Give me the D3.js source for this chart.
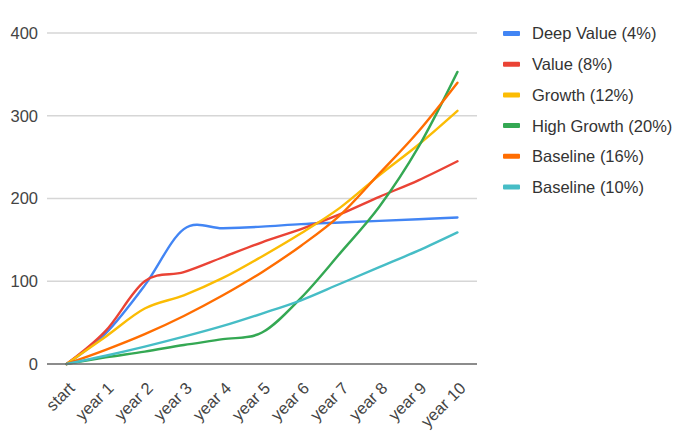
<!DOCTYPE html>
<html><head><meta charset="utf-8">
<script src="https://cdn.jsdelivr.net/npm/d3@7"></script>
<style>body{margin:0;background:#fff;} svg{display:block;font-family:Arial,"Liberation Sans",sans-serif;}</style>
</head><body>
<svg id="c" width="680" height="437"></svg>
<script>
const categories = ["start","year 1","year 2","year 3","year 4","year 5","year 6","year 7","year 8","year 9","year 10"];
const seriesNames = ["Deep Value (4%)","Value (8%)","Growth (12%)","High Growth (20%)","Baseline (16%)","Baseline (10%)"];
const seriesColors = ["#4285F4","#EA4335","#FBBC04","#34A853","#FF6D01","#46BDC6"];
const deepValue  = [0, 37, 95, 163, 164, 166, 169, 171, 173, 175, 177];
const value      = [0, 40, 100, 111, 129, 147, 163, 181, 202, 222, 245];
const growth     = [0, 33, 67, 83, 104, 130, 158, 189, 228, 265, 306];
const highGrowth = [0, 8, 15, 23, 30, 38, 80, 134, 190, 262, 353];
const base16     = [0, 17, 36, 58, 83, 111, 143, 180, 230, 281, 340];
const base10     = [0, 10, 21, 33, 46, 61, 77, 97, 117, 137, 159];
const yTicks = [0, 100, 200, 300, 400];
const seriesData = [deepValue, value, growth, highGrowth, base16, base10];

const svg = d3.select("#c");
const x = d3.scalePoint().domain(categories).range([47, 477]).padding(0.5);
const y = d3.scaleLinear().domain([0, 400]).range([364, 33]);

// gridlines
svg.append("g").selectAll("line").data(yTicks.filter(d => d !== 0)).join("line")
  .attr("x1", 47).attr("x2", 477).attr("y1", d => y(d)).attr("y2", d => y(d))
  .attr("stroke", "#d6d6d6").attr("stroke-width", 1.3);

// y labels
svg.append("g").selectAll("text").data(yTicks).join("text")
  .attr("x", 38).attr("y", d => y(d)).attr("dy", "0.36em")
  .attr("text-anchor", "end").attr("font-size", 16.5).attr("fill", "#444")
  .text(d => d);

// lines
const line = d3.line().x((d, i) => x(categories[i])).y(d => y(d)).curve(d3.curveCardinal.tension(0));
svg.append("g").selectAll("path").data(seriesData).join("path")
  .attr("d", d => line(d)).attr("fill", "none")
  .attr("stroke", (d, i) => seriesColors[i]).attr("stroke-width", 2.4)
  .attr("stroke-linejoin", "round").attr("stroke-linecap", "round");

// baseline
svg.append("line").attr("x1", 47).attr("x2", 477).attr("y1", y(0)).attr("y2", y(0))
  .attr("stroke", "#666").attr("stroke-width", 1.6);

// x labels
svg.append("g").selectAll("text").data(categories).join("text")
  .attr("transform", d => `translate(${x(d) + 5},${385}) rotate(-45)`)
  .attr("dy", "0.36em").attr("text-anchor", "end")
  .attr("font-size", 16.5).attr("fill", "#444").text(d => d);

// legend
const lg = svg.append("g").selectAll("g").data(seriesNames).join("g")
  .attr("transform", (d, i) => `translate(503,${33.5 + i * 30.7})`);
lg.append("rect").attr("x", 0).attr("y", -2.5).attr("width", 17).attr("height", 5)
  .attr("rx", 1).attr("fill", (d, i) => seriesColors[i]);
lg.append("text").attr("x", 29).attr("dy", "0.36em").attr("font-size", 16.5)
  .attr("fill", "#333").text(d => d);
</script>
</body></html>
